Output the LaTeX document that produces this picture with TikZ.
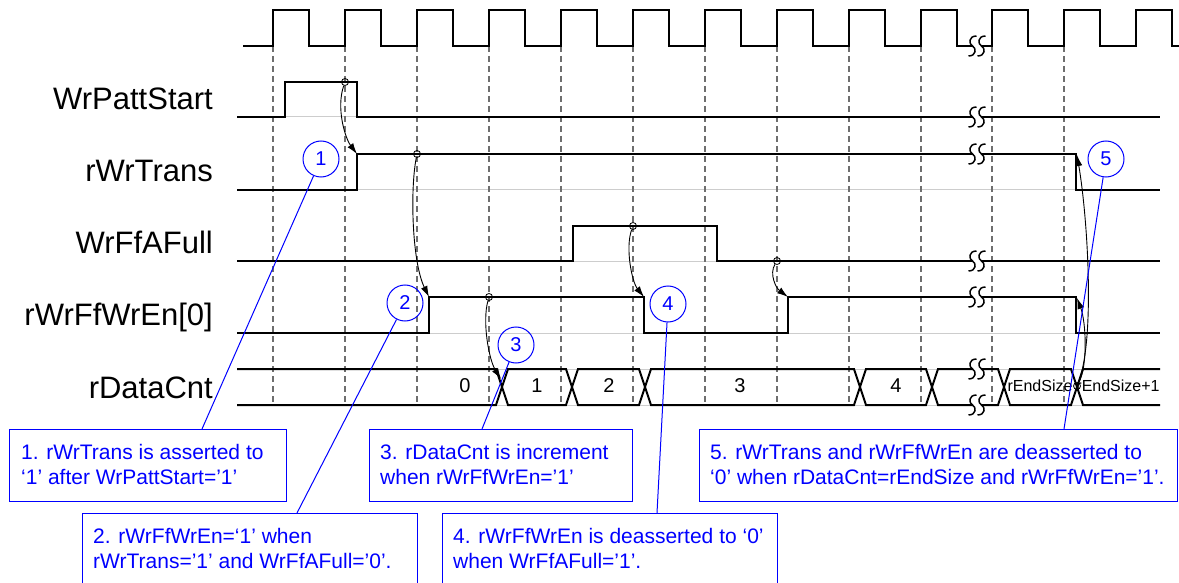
\documentclass[tikz,border=0pt]{standalone}
\usepackage{fontspec}
\setmainfont{Liberation Sans}
\usetikzlibrary{positioning,arrows.meta}
\definecolor{dashgray}{RGB}{110,110,110}
\definecolor{guidegray}{RGB}{205,205,205}
\definecolor{noteblue}{RGB}{0,0,255}

% break mark on a line at (x,y), two S curves with a gap
\newcommand{\brk}[2]{  \fill[white] (#1-4.5,#2-3) rectangle (#1+4.5,#2+3);
	\draw[brkline] (#1-0.5,#2-10) .. controls (#1-8.5,#2-10) and (#1-8.5,#2-2) .. (#1-4.5,#2)
		.. controls (#1-0.5,#2+2) and (#1-0.5,#2+10) .. (#1-8.5,#2+10);
	\draw[brkline] (#1+8.5,#2-10) .. controls (#1+0.5,#2-10) and (#1+0.5,#2-2) .. (#1+4.5,#2)
		.. controls (#1+8.5,#2+2) and (#1+8.5,#2+10) .. (#1+0.5,#2+10);  }

\begin{document}
\begin{tikzpicture}[x = 1pt, y = -1pt,
	sig/.style = {line width = 2pt, line join = miter},
	guide/.style = {line width = 1pt, guidegray},
	edge/.style = {line width = 1.5pt, dashgray, dash pattern = on 6pt off 4pt},
	brkline/.style = {line width = 1.5pt},
	siglabel/.style = {anchor = base east, inner sep = 0pt, font = \fontsize{31}{37}\selectfont},
	buslabel/.style = {inner sep = 0pt, font = \fontsize{20}{24}\selectfont},
	smalllabel/.style = {inner sep = 0pt, font = \fontsize{16}{19}\selectfont},
	srcdot/.style = {circle, draw, line width = 0.8pt, inner sep = 0pt, minimum size = 7pt},
	cause/.style = {line width = 0.9pt, -{Latex[length = 11pt, width = 7pt]}},
	notenum/.style = {circle, draw = noteblue, line width = 1pt, text = noteblue, inner sep = 0pt,
		minimum size = 36pt, font = \fontsize{20}{24}\selectfont},
	notebox/.style = {draw = noteblue, line width = 1pt, inner sep = 0pt, anchor = north west},
	notetext/.style = {text = noteblue, inner sep = 0pt, align = left, font = \fontsize{21}{25}\selectfont},
	lead/.style = {noteblue, line width = 1pt},
]
	\useasboundingbox (0,0) rectangle (1179,583);

	\def \xStart {237};
	\def \xEnd {1160};
	\def \xBrk {977};
	\def \busTop {369};
	\def \busBot {405};

%low level guides
	\draw[guide] (\xStart,117) -- (\xEnd,117);
	\draw[guide] (\xStart,190) -- (\xEnd,190);
	\draw[guide] (\xStart,261) -- (\xEnd,261);
	\draw[guide] (\xStart,333) -- (\xEnd,333);
	\draw[guide] (\xStart,\busTop) -- (\xEnd,\busTop);
	\draw[guide] (\xStart,\busBot) -- (\xEnd,\busBot);

%clock edges
	\draw[edge] (273,46) -- (273,405);
	\draw[edge] (345,46) -- (345,405);
	\draw[edge] (417,46) -- (417,405);
	\draw[edge] (489,46) -- (489,405);
	\draw[edge] (561,46) -- (561,405);
	\draw[edge] (633,46) -- (633,405);
	\draw[edge] (705,46) -- (705,405);
	\draw[edge] (777,46) -- (777,405);
	\draw[edge] (849,46) -- (849,405);
	\draw[edge] (921,46) -- (921,405);
	\draw[edge] (992,46) -- (992,405);
	\draw[edge] (1064,46) -- (1064,405);

%clock
	\draw[sig] (243,46) -- (273,46) -- (273,10) -- (309,10) -- (309,46) -- (345,46) -- (345,10) -- (381,10)
		-- (381,46) -- (417,46) -- (417,10) -- (453,10) -- (453,46) -- (489,46) -- (489,10) -- (525,10)
		-- (525,46) -- (561,46) -- (561,10) -- (597,10) -- (597,46) -- (633,46) -- (633,10) -- (669,10)
		-- (669,46) -- (705,46) -- (705,10) -- (741,10) -- (741,46) -- (777,46) -- (777,10) -- (813,10)
		-- (813,46) -- (849,46) -- (849,10) -- (885,10) -- (885,46) -- (921,46) -- (921,10) -- (957,10)
		-- (957,46) -- (992,46) -- (992,10) -- (1028,10) -- (1028,46) -- (1064,46) -- (1064,10) -- (1100,10)
		-- (1100,46) -- (1136,46) -- (1136,10) -- (1172,10) -- (1172,46) -- (1179,46);

%signals
	\draw[sig] (\xStart,117) -- (285,117) -- (285,82) -- (357,82) -- (357,117) -- (\xEnd,117);
	\draw[sig] (\xStart,190) -- (357,190) -- (357,154) -- (1076,154) -- (1076,190) -- (\xEnd,190);
	\draw[sig] (\xStart,261) -- (573,261) -- (573,226) -- (717,226) -- (717,261) -- (\xEnd,261);
	\draw[sig] (\xStart,333) -- (429,333) -- (429,297) -- (644,297) -- (644,333) -- (788,333) -- (788,297)
		-- (1076,297) -- (1076,333) -- (\xEnd,333);

%bus rDataCnt
	\draw[sig] (\xStart,\busTop) -- (496,\busTop) -- (508,\busBot) -- (566,\busBot) -- (578,\busTop) -- (639,\busTop)
		-- (651,\busBot) -- (854,\busBot) -- (866,\busTop) -- (926,\busTop) -- (938,\busBot) -- (998,\busBot)
		-- (1010,\busTop) -- (1071,\busTop) -- (1083,\busBot) -- (\xEnd,\busBot);
	\draw[sig] (\xStart,\busBot) -- (496,\busBot) -- (508,\busTop) -- (566,\busTop) -- (578,\busBot) -- (639,\busBot)
		-- (651,\busTop) -- (854,\busTop) -- (866,\busBot) -- (926,\busBot) -- (938,\busTop) -- (998,\busTop)
		-- (1010,\busBot) -- (1071,\busBot) -- (1083,\busTop) -- (\xEnd,\busTop);

%breaks
	\brk{\xBrk}{46}
	\brk{\xBrk}{117}
	\brk{\xBrk}{154}
	\brk{\xBrk}{261}
	\brk{\xBrk}{297}
	\brk{\xBrk}{\busTop}
	\brk{\xBrk}{\busBot}

%signal names
	\node[siglabel] (nWrPattStart) at (213,110) {WrPattStart};
	\node[siglabel] (nrWrTrans) at (213,182) {rWrTrans};
	\node[siglabel] (nWrFfAFull) at (213,253) {WrFfAFull};
	\node[siglabel] (nrWrFfWrEn) at (213,325) {rWrFfWrEn[0]};
	\node[siglabel] (nrDataCnt) at (213,398) {rDataCnt};

%bus values
	\node[buslabel] (val0) at (465,386) {0};
	\node[buslabel] (val1) at (537,386) {1};
	\node[buslabel] (val2) at (609,386) {2};
	\node[buslabel] (val3) at (740,386) {3};
	\node[buslabel] (val4) at (896,386) {4};
	\node[smalllabel] (valEnd) at (1040,386) {rEndSize};
	\node[smalllabel] (valEndOne) at (1118,386) {rEndSize+1};

%cause and effect
	\node[srcdot] (src1) at (345,82) {};
	\node[srcdot] (src2) at (417,154) {};
	\node[srcdot] (src3) at (633,226) {};
	\node[srcdot] (src4) at (489,297) {};
	\node[srcdot] (src5) at (777,261) {};
	\node[srcdot] (src6) at (1077,386) {};
	\coordinate (dst1) at (357,154);
	\coordinate (dst2) at (429,297);
	\coordinate (dst3) at (644,297);
	\coordinate (dst4) at (501,379);
	\coordinate (dst5) at (788,297);
	\coordinate (dst6) at (1077,155);
	\coordinate (dst7) at (1077,298);
	\draw[cause] (src1) .. controls (336,108) and (345,138) .. (dst1);
	\draw[cause] (src2) .. controls (410,190) and (412,262) .. (dst2);
	\draw[cause] (src3) .. controls (625,248) and (632,282) .. (dst3);
	\draw[cause] (src4) .. controls (482,322) and (489,360) .. (dst4);
	\draw[cause] (src5) .. controls (769,274) and (776,288) .. (dst5);
	\draw[cause] (src6) .. controls (1095,340) and (1088,220) .. (dst6);
	\draw[cause] (src6) .. controls (1088,365) and (1086,322) .. (dst7);

%notes
	\node[notenum] (num1) at (321,159) {1};
	\node[notenum] (num2) at (405,303) {2};
	\node[notenum] (num3) at (516,345) {3};
	\node[notenum] (num4) at (668,304) {4};
	\node[notenum] (num5) at (1106,159) {5};

	\node[notebox, minimum width = 277pt, minimum height = 72pt] (box1) at (9,429) {};
	\node[notebox, minimum width = 335pt, minimum height = 72pt] (box2) at (82,513) {};
	\node[notebox, minimum width = 263pt, minimum height = 72pt] (box3) at (369,429) {};
	\node[notebox, minimum width = 335pt, minimum height = 72pt] (box4) at (442,513) {};
	\node[notebox, minimum width = 478pt, minimum height = 72pt] (box5) at (699,429) {};

	\node[notetext, below right = 15pt and 12pt of box1.north west] (txt1)
		{1. rWrTrans is asserted to\\‘1’ after WrPattStart=’1’};
	\node[notetext, below right = 15pt and 11pt of box2.north west] (txt2)
		{2. rWrFfWrEn=‘1’ when\\rWrTrans=’1’ and WrFfAFull=’0’.};
	\node[notetext, below right = 15pt and 11pt of box3.north west] (txt3)
		{3. rDataCnt is increment\\when rWrFfWrEn=’1’};
	\node[notetext, below right = 15pt and 11pt of box4.north west] (txt4)
		{4. rWrFfWrEn is deasserted to ‘0’\\when WrFfAFull=’1’.};
	\node[notetext, below right = 15pt and 11pt of box5.north west] (txt5)
		{5. rWrTrans and rWrFfWrEn are deasserted to\\‘0’ when rDataCnt=rEndSize and rWrFfWrEn=’1’.};

	\coordinate (end1) at (202,429);
	\coordinate (end2) at (297,513);
	\coordinate (end3) at (482,429);
	\coordinate (end4) at (657,513);
	\coordinate (end5) at (1064,429);
	\draw[lead] (num1) -- (end1);
	\draw[lead] (num2) -- (end2);
	\draw[lead] (num3) -- (end3);
	\draw[lead] (num4) -- (end4);
	\draw[lead] (num5) -- (end5);
\end{tikzpicture}
\end{document}
